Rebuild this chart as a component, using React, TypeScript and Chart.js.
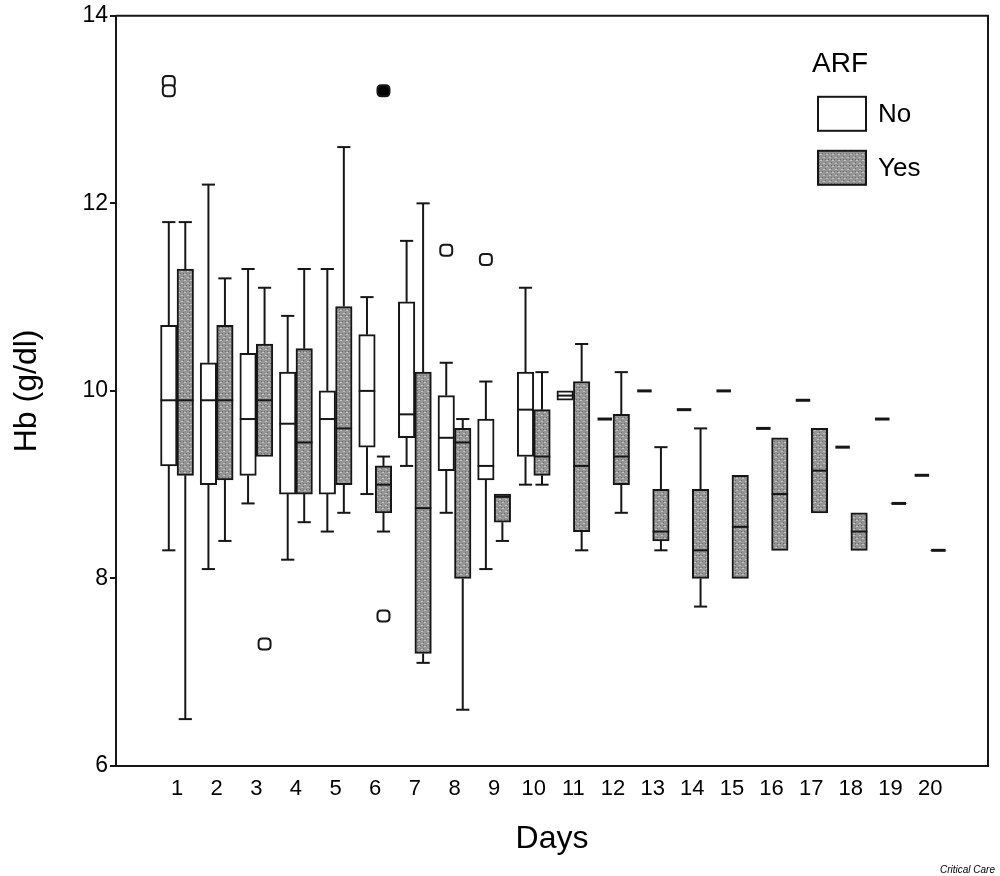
import React, { useEffect, useRef } from 'react';
import { Chart, registerables } from 'chart.js';

Chart.register(...registerables);

// ---- data ----
const days = [1, 2, 3, 4, 5, 6, 7, 8, 9, 10, 11, 12, 13, 14, 15, 16, 17, 18, 19, 20];
const yTicks = [6, 8, 10, 12, 14];
const seriesLabels = ['No', 'Yes'];
const legendTitle = 'ARF';
const xTitle = 'Days';
const yTitle = 'Hb (g/dl)';
const credit = 'Critical Care';

// ARF = No
const noMin = [8.3, 8.1, 8.8, 8.2, 8.5, 8.9, 9.2, 8.7, 8.1, 9.0, 9.9, 9.7, 10.0, 9.8, 10.0, 9.6, 9.9, 9.4, 9.7, 9.1];
const noQ1 = [9.2, 9.0, 9.1, 8.9, 8.9, 9.4, 9.5, 9.15, 9.05, 9.3, 9.9, 9.7, 10.0, 9.8, 10.0, 9.6, 9.9, 9.4, 9.7, 9.1];
const noMed = [9.9, 9.9, 9.7, 9.65, 9.7, 10.0, 9.75, 9.5, 9.2, 9.8, 9.95, 9.7, 10.0, 9.8, 10.0, 9.6, 9.9, 9.4, 9.7, 9.1];
const noQ3 = [10.7, 10.3, 10.4, 10.2, 10.0, 10.6, 10.95, 9.95, 9.7, 10.2, 10.0, 9.7, 10.0, 9.8, 10.0, 9.6, 9.9, 9.4, 9.7, 9.1];
const noMax = [11.8, 12.2, 11.3, 10.8, 11.3, 11.0, 11.6, 10.3, 10.1, 11.1, 10.0, 9.7, 10.0, 9.8, 10.0, 9.6, 9.9, 9.4, 9.7, 9.1];
const noOutliers: number[][] = [[13.3, 13.2], [], [], [], [], [], [], [11.5], [11.4], [], [], [], [], [], [], [], [], [], [], []];
const noExtremes: number[][] = [[], [], [], [], [], [], [], [], [], [], [], [], [], [], [], [], [], [], [], []];

// ARF = Yes
const yesMin = [6.5, 8.4, 9.3, 8.6, 8.7, 8.5, 7.1, 6.6, 8.4, 9.0, 8.3, 8.7, 8.3, 7.7, 8.0, 8.3, 8.7, 8.3, 8.8, 8.3];
const yesQ1 = [9.1, 9.05, 9.3, 8.9, 9.0, 8.7, 7.2, 8.0, 8.6, 9.1, 8.5, 9.0, 8.4, 8.0, 8.0, 8.3, 8.7, 8.3, 8.8, 8.3];
const yesMed = [9.9, 9.9, 9.9, 9.45, 9.6, 9.0, 8.75, 9.45, 8.87, 9.3, 9.2, 9.3, 8.5, 8.3, 8.55, 8.9, 9.15, 8.5, 8.8, 8.3];
const yesQ3 = [11.3, 10.7, 10.5, 10.45, 10.9, 9.2, 10.2, 9.6, 8.9, 9.8, 10.1, 9.75, 8.95, 8.95, 9.1, 9.5, 9.6, 8.7, 8.8, 8.3];
const yesMax = [11.8, 11.2, 11.1, 11.3, 12.6, 9.3, 12.0, 9.7, 8.9, 10.2, 10.5, 10.2, 9.4, 9.6, 9.1, 9.5, 9.6, 8.7, 8.8, 8.3];
const yesOutliers: number[][] = [[], [], [7.3], [], [], [7.6], [], [], [], [], [], [], [], [], [], [], [], [], [], []];
const yesExtremes: number[][] = [[], [], [], [], [], [13.2], [], [], [], [], [], [], [], [], [], [], [], [], [], []];

const FONT = '"Liberation Sans", Arial, Helvetica, sans-serif';

type Stats = { min: number[]; q1: number[]; med: number[]; q3: number[]; max: number[]; out: number[][]; ext: number[][] };
const stats: Stats[] = [
  { min: noMin, q1: noQ1, med: noMed, q3: noQ3, max: noMax, out: noOutliers, ext: noExtremes },
  { min: yesMin, q1: yesQ1, med: yesMed, q3: yesQ3, max: yesMax, out: yesOutliers, ext: yesExtremes },
];

function makePattern(): CanvasPattern | string {
  const c = document.createElement('canvas');
  c.width = 6;
  c.height = 6;
  const g = c.getContext('2d');
  if (!g) return '#9a9a9a';
  g.fillStyle = '#959595';
  g.fillRect(0, 0, 6, 6);
  g.fillStyle = '#c4c4c4';
  g.fillRect(1, 1, 2, 1);
  g.fillRect(4, 4, 2, 1);
  g.fillStyle = '#6c6c6c';
  g.fillRect(0, 3, 1, 1);
  g.fillRect(3, 0, 1, 1);
  g.fillRect(3, 3, 1, 1);
  const p = g.createPattern(c, 'repeat');
  return p || '#9a9a9a';
}

function roundedSquare(ctx: CanvasRenderingContext2D, cx: number, cy: number, w: number, h: number, r: number) {
  const x = cx - w / 2;
  const y = cy - h / 2;
  ctx.beginPath();
  ctx.moveTo(x + r, y);
  ctx.lineTo(x + w - r, y);
  ctx.quadraticCurveTo(x + w, y, x + w, y + r);
  ctx.lineTo(x + w, y + h - r);
  ctx.quadraticCurveTo(x + w, y + h, x + w - r, y + h);
  ctx.lineTo(x + r, y + h);
  ctx.quadraticCurveTo(x, y + h, x, y + h - r);
  ctx.lineTo(x, y + r);
  ctx.quadraticCurveTo(x, y, x + r, y);
  ctx.closePath();
}

export default function App() {
  const ref = useRef<HTMLCanvasElement | null>(null);

  useEffect(() => {
    document.body.style.margin = '0';
    const canvas = ref.current;
    if (!canvas) return;
    const pattern = makePattern();
    const fills = ['#ffffff', pattern];

    const boxPlugin = {
      id: 'boxDecor',
      afterDatasetsDraw(chart: any) {
        const ctx: CanvasRenderingContext2D = chart.ctx;
        const y = chart.scales.y;
        const py = (v: number) => y.getPixelForValue(v);
        const line = (x1: number, y1: number, x2: number, y2: number) => {
          ctx.beginPath();
          ctx.moveTo(x1, y1);
          ctx.lineTo(x2, y2);
          ctx.stroke();
        };
        stats.forEach((s, di) => {
          const meta = chart.getDatasetMeta(di);
          meta.data.forEach((el: any, i: number) => {
            const { x, width } = el.getProps(['x', 'width'], true);
            const half = width / 2;
            const capHalf = width * 0.4;
            ctx.save();
            ctx.strokeStyle = '#161616';
            ctx.lineWidth = 2;
            ctx.lineCap = 'butt';
            if (s.max[i] > s.q3[i]) {
              line(x, py(s.q3[i]), x, py(s.max[i]));
              line(x - capHalf, py(s.max[i]), x + capHalf, py(s.max[i]));
            }
            if (s.min[i] < s.q1[i]) {
              line(x, py(s.q1[i]), x, py(s.min[i]));
              line(x - capHalf, py(s.min[i]), x + capHalf, py(s.min[i]));
            }
            const single = s.q1[i] === s.q3[i];
            ctx.lineWidth = single ? 3 : 2;
            line(x - half + (single ? 1 : 0), py(s.med[i]), x + half - (single ? 1 : 0), py(s.med[i]));
            ctx.lineWidth = 2;
            s.out[i].forEach((v) => {
              roundedSquare(ctx, x, py(v), 12, 11, 4);
              ctx.fillStyle = '#ffffff';
              ctx.fill();
              ctx.stroke();
            });
            s.ext[i].forEach((v) => {
              roundedSquare(ctx, x, py(v), 12, 11, 4);
              ctx.fillStyle = '#000000';
              ctx.fill();
              ctx.stroke();
            });
            ctx.restore();
          });
        });
      },
      afterDraw(chart: any) {
        const ctx: CanvasRenderingContext2D = chart.ctx;
        const a = chart.chartArea;
        ctx.save();
        // frame (top + right)
        ctx.strokeStyle = '#161616';
        ctx.lineWidth = 2;
        ctx.beginPath();
        ctx.moveTo(a.left, a.top);
        ctx.lineTo(a.right, a.top);
        ctx.lineTo(a.right, a.bottom);
        ctx.stroke();

        // legend
        const lx = a.right - 170;
        ctx.fillStyle = '#000';
        ctx.textBaseline = 'middle';
        ctx.textAlign = 'left';
        ctx.font = `28px ${FONT}`;
        ctx.fillText(legendTitle, lx - 6, a.top + 48);
        seriesLabels.forEach((lab, k) => {
          const top = a.top + 81 + k * 54;
          ctx.fillStyle = fills[k] as any;
          ctx.fillRect(lx, top, 48, 34);
          ctx.strokeStyle = '#161616';
          ctx.lineWidth = 2;
          ctx.strokeRect(lx, top, 48, 34);
          ctx.fillStyle = '#000';
          ctx.font = `26px ${FONT}`;
          ctx.fillText(lab, lx + 60, top + 18);
        });

        // credit
        ctx.font = `italic 10px ${FONT}`;
        ctx.textAlign = 'right';
        ctx.fillText(credit, 995, 870);
        ctx.restore();
      },
    };

    const xMin = -0.54;
    const xMax = 21.46;

    const chart = new Chart(canvas, {
      type: 'bar',
      data: {
        datasets: [0, 1].map((di) => ({
          label: seriesLabels[di],
          data: days.map((d, i) => ({ x: d, y: [stats[di].q1[i], stats[di].q3[i]] })),
          backgroundColor: fills[di] as any,
          borderColor: '#161616',
          borderWidth: (c: any) => (stats[di].q1[c.dataIndex] === stats[di].q3[c.dataIndex] ? 0 : 2),
          borderSkipped: false,
          barThickness: 16.5,
        })) as any,
      },
      options: {
        responsive: false,
        animation: false,
        devicePixelRatio: 1,
        layout: { padding: { top: 15, right: 12, bottom: 0, left: 0 } },
        plugins: { legend: { display: false }, tooltip: { enabled: false } },
        scales: {
          x: {
            type: 'linear',
            min: xMin,
            max: xMax,
            offset: false,
            afterBuildTicks: (s: any) => {
              s.ticks = days.map((d) => ({ value: d }));
            },
            afterFit: (s: any) => {
              s.height = 110;
            },
            ticks: {
              autoSkip: false,
              maxRotation: 0,
              padding: 10,
              color: '#000',
              font: { size: 22, family: FONT },
              callback: (v: any) => String(v),
            },
            grid: { display: false, drawTicks: false, offset: false },
            border: { display: true, color: '#161616', width: 2 },
            title: {
              display: true,
              text: xTitle,
              color: '#000',
              font: { size: 32, family: FONT },
              padding: { top: 0, bottom: 18 },
            },
          },
          y: {
            type: 'linear',
            min: 6,
            max: 14,
            beginAtZero: false,
            afterBuildTicks: (s: any) => {
              s.ticks = yTicks.map((v) => ({ value: v }));
            },
            afterFit: (s: any) => {
              s.width = 116;
            },
            ticks: { padding: 2, color: '#000', font: { size: 23, family: FONT } },
            grid: { display: true, drawOnChartArea: false, drawTicks: true, tickLength: 6, color: '#161616', lineWidth: 2 },
            border: { display: true, color: '#161616', width: 2 },
            title: {
              display: true,
              text: yTitle,
              color: '#000',
              font: { size: 32, family: FONT },
              padding: { top: 8, bottom: 0 },
            },
          },
        },
      } as any,
      plugins: [boxPlugin],
    });
    return () => chart.destroy();
  }, []);

  return (
    <div style={{ width: 1000, height: 876 }}>
      <canvas ref={ref} width={1000} height={876} style={{ display: 'block', width: 1000, height: 876 }} />
    </div>
  );
}
